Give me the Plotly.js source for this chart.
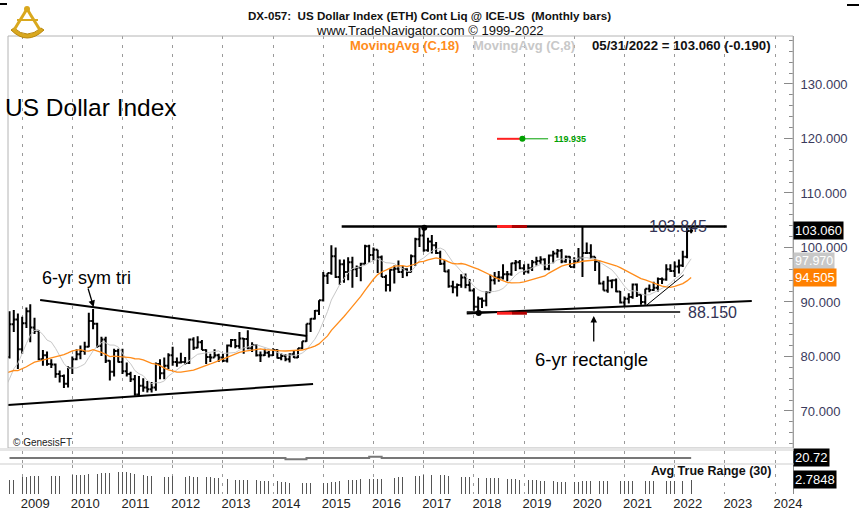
<!DOCTYPE html>
<html><head><meta charset="utf-8">
<script src="https://cdn.plot.ly/plotly-3.0.1.min.js"></script>
<style>html,body{margin:0;padding:0;background:#fff}#c{width:859px;height:510px}</style>
</head><body><div id="c"></div>
<script>
const months = [
'2007-01','2007-02','2007-03','2007-04','2007-05','2007-06','2007-07','2007-08','2007-09','2007-10','2007-11','2007-12',
'2008-01','2008-02','2008-03','2008-04','2008-05','2008-06','2008-07','2008-08','2008-09','2008-10','2008-11','2008-12',
'2009-01','2009-02','2009-03','2009-04','2009-05','2009-06','2009-07','2009-08','2009-09','2009-10','2009-11','2009-12',
'2010-01','2010-02','2010-03','2010-04','2010-05','2010-06','2010-07','2010-08','2010-09','2010-10','2010-11','2010-12',
'2011-01','2011-02','2011-03','2011-04','2011-05','2011-06','2011-07','2011-08','2011-09','2011-10','2011-11','2011-12',
'2012-01','2012-02','2012-03','2012-04','2012-05','2012-06','2012-07','2012-08','2012-09','2012-10','2012-11','2012-12',
'2013-01','2013-02','2013-03','2013-04','2013-05','2013-06','2013-07','2013-08','2013-09','2013-10','2013-11','2013-12',
'2014-01','2014-02','2014-03','2014-04','2014-05','2014-06','2014-07','2014-08','2014-09','2014-10','2014-11','2014-12',
'2015-01','2015-02','2015-03','2015-04','2015-05','2015-06','2015-07','2015-08','2015-09','2015-10','2015-11','2015-12',
'2016-01','2016-02','2016-03','2016-04','2016-05','2016-06','2016-07','2016-08','2016-09','2016-10','2016-11','2016-12',
'2017-01','2017-02','2017-03','2017-04','2017-05','2017-06','2017-07','2017-08','2017-09','2017-10','2017-11','2017-12',
'2018-01','2018-02','2018-03','2018-04','2018-05','2018-06','2018-07','2018-08','2018-09','2018-10','2018-11','2018-12',
'2019-01','2019-02','2019-03','2019-04','2019-05','2019-06','2019-07','2019-08','2019-09','2019-10','2019-11','2019-12',
'2020-01','2020-02','2020-03','2020-04','2020-05','2020-06','2020-07','2020-08','2020-09','2020-10','2020-11','2020-12',
'2021-01','2021-02','2021-03','2021-04','2021-05','2021-06','2021-07','2021-08','2021-09','2021-10','2021-11','2021-12',
'2022-01','2022-02','2022-03','2022-04','2022-05'];

const open = [
83.6,84.9,83.8,82.9,81.7,82.2,81.9,80.5,80.9,78.0,76.6,75.9,
76.7,75.4,73.7,72.1,73.3,72.8,72.5,73.2,77.4,79.9,85.9,86.8,
81.3,86.1,88.3,85.3,84.7,79.5,80.2,78.6,78.5,76.8,76.4,75.0,
77.9,79.5,80.4,81.0,81.8,86.5,86.0,81.9,83.1,79.2,77.2,81.0,
79.0,77.3,76.8,75.8,73.0,74.6,74.3,74.0,74.3,78.6,76.9,78.3,
80.2,79.0,78.9,79.0,78.8,83.1,81.6,82.6,81.2,79.9,79.8,80.2,
79.8,79.2,82.0,83.0,81.9,83.3,83.2,81.5,82.1,80.2,80.2,80.7,
80.2,81.2,79.7,80.1,79.5,80.4,79.8,81.5,82.8,86.0,86.9,88.4,
90.3,94.8,95.3,98.4,94.6,96.9,95.5,97.3,96.0,96.3,97.0,100.2,
98.6,99.6,98.2,94.6,93.1,95.9,96.1,95.5,96.0,95.5,98.4,101.5,
102.2,99.5,101.1,100.4,99.0,97.0,95.6,92.9,92.7,93.1,94.5,93.1,
92.1,89.1,90.6,90.2,91.8,94.0,94.5,94.5,95.1,95.1,97.1,97.3,
96.2,95.6,96.2,97.3,97.5,97.8,96.1,98.5,98.9,99.4,97.4,98.3,
96.4,97.4,98.1,99.0,99.0,98.3,97.4,93.4,92.1,93.9,94.0,91.9,
89.9,90.6,90.9,93.2,91.3,90.0,92.4,92.2,92.6,94.2,94.1,96.0,
95.7,96.5,96.7,98.3,103.0];

const high = [
85.4,85.1,84.3,83.0,82.6,83.0,82.0,82.2,81.1,78.4,76.9,78.0,
77.0,76.6,74.2,73.6,73.7,74.0,73.6,77.7,80.4,88.3,88.5,87.9,
87.3,89.0,89.6,87.1,84.8,81.2,80.9,79.5,78.7,77.4,76.7,78.2,
80.0,81.3,82.0,82.7,88.0,88.7,86.2,83.6,83.6,79.3,81.4,81.4,
81.4,78.9,77.2,76.6,76.4,76.0,75.5,75.3,78.9,79.5,79.8,80.6,
81.8,79.8,80.7,79.9,83.3,83.5,83.7,83.0,81.3,80.5,81.3,80.5,
80.5,82.2,83.2,83.2,84.5,83.4,84.8,82.6,82.3,80.9,81.4,81.0,
81.5,81.3,80.6,80.4,80.6,81.0,81.5,82.8,86.0,87.0,88.5,90.3,
95.5,95.3,100.4,100.0,97.8,97.8,98.2,98.3,96.7,97.2,100.5,100.5,
100.0,99.6,98.5,95.0,96.0,96.7,97.6,96.6,96.2,98.7,101.8,103.6,
103.8,101.8,102.3,101.0,99.4,97.7,96.0,93.9,93.4,95.1,95.2,94.2,
92.5,91.0,90.8,92.0,95.0,95.5,95.7,96.9,95.7,97.2,97.7,97.7,
96.9,97.0,97.7,98.3,98.4,98.0,98.7,99.4,99.7,99.7,98.5,98.4,
98.2,99.9,103.8,100.9,100.6,98.3,97.6,93.9,94.7,94.1,94.3,92.0,
91.0,91.6,93.4,93.4,91.4,92.4,93.2,93.7,94.5,94.5,96.9,96.9,
97.4,97.8,99.4,103.6,103.845];

const low = [
83.4,83.5,82.5,81.1,81.3,81.7,80.0,80.2,77.9,76.3,74.5,75.6,
75.3,73.6,70.7,71.3,71.9,72.0,71.3,72.9,76.0,79.6,84.5,77.7,
80.5,85.2,82.6,84.1,79.3,78.3,78.3,77.9,76.1,75.2,74.2,74.3,
76.8,79.3,79.5,80.3,81.7,85.0,81.6,80.1,78.8,75.6,76.3,78.9,
76.8,76.3,75.3,72.8,72.7,73.5,73.4,73.4,73.7,75.8,75.8,77.7,
78.3,78.1,78.7,78.5,78.6,81.2,81.5,81.2,78.6,79.0,79.8,79.0,
79.0,78.9,81.7,81.5,81.4,80.5,81.3,80.8,80.0,79.0,80.1,79.8,
80.1,79.6,79.3,79.1,78.9,79.7,79.7,81.3,82.7,84.5,86.8,87.6,
90.1,93.3,95.0,94.4,93.1,93.5,94.0,92.6,94.6,93.8,96.9,97.2,
97.6,95.3,94.6,91.9,91.9,93.4,95.3,94.4,94.7,95.4,96.6,100.1,
99.2,99.2,98.9,98.8,96.8,95.5,92.6,91.6,91.0,92.6,92.5,91.9,
88.4,88.15,88.9,89.2,91.8,93.2,93.7,94.1,93.8,94.8,95.7,96.0,
95.0,95.2,95.7,96.7,97.0,95.8,95.8,97.1,98.1,97.1,97.2,96.4,
96.2,97.4,94.6,98.8,97.9,95.7,93.2,92.1,91.7,92.5,91.8,89.7,
89.2,89.7,90.6,90.9,89.5,89.5,91.8,92.0,91.9,93.3,93.9,95.5,
94.6,95.2,96.4,98.0,102.6];

const close = [
84.9,83.8,82.9,81.7,82.2,81.9,80.5,80.9,78.0,76.6,75.9,76.7,
75.4,73.7,72.1,73.3,72.8,72.5,73.2,77.4,79.9,85.9,86.8,81.3,
86.1,88.3,85.3,84.7,79.5,80.2,78.6,78.5,76.8,76.4,75.0,77.9,
79.5,80.4,81.0,81.8,86.5,86.0,81.9,83.1,79.2,77.2,81.0,79.0,
77.3,76.8,75.8,73.0,74.6,74.3,74.0,74.3,78.6,76.9,78.3,80.2,
79.0,78.9,79.0,78.8,83.1,81.6,82.6,81.2,79.9,79.8,80.2,79.8,
79.2,82.0,83.0,81.9,83.3,83.2,81.5,82.1,80.2,80.2,80.7,80.2,
81.2,79.7,80.1,79.5,80.4,79.8,81.5,82.8,86.0,86.9,88.4,90.3,
94.8,95.3,98.4,94.6,96.9,95.5,97.3,96.0,96.3,97.0,100.2,98.6,
99.6,98.2,94.6,93.1,95.9,96.1,95.5,96.0,95.5,98.4,101.5,102.2,
99.5,101.1,100.4,99.0,97.0,95.6,92.9,92.7,93.1,94.5,93.1,92.1,
89.1,90.6,90.2,91.8,94.0,94.5,94.5,95.1,95.1,97.1,97.3,96.2,
95.6,96.2,97.3,97.5,97.8,96.1,98.5,98.9,99.4,97.4,98.3,96.4,
97.4,98.1,99.0,99.0,98.3,97.4,93.4,92.1,93.9,94.0,91.9,89.9,
90.6,90.9,93.2,91.3,90.0,92.4,92.2,92.6,94.2,94.1,96.0,95.7,
96.5,96.7,98.3,103.0,103.06];

// second (flat) study panel
const subX = ['2008-10','2014-04','2014-04','2014-09','2014-09','2015-12','2015-12','2016-03','2016-03','2022-05'];
const subY = [20.72,20.72,20.45,20.45,20.72,20.72,21.05,21.05,20.72,20.72];

// axis tick labels
const yearTicks = ['2009','2010','2011','2012','2013','2014','2015','2016','2017','2018','2019','2020','2021','2022','2023','2024'];

// drawn trend lines (date, value)
const triUpX = ['2009-05-12','2014-09-05'], triUpY = [90.37, 83.76];
const triLoX = ['2008-09-20','2014-10-19'], triLoY = [71.1, 74.95];
const topX = ['2015-05-15','2023-01-15'], topY = [103.85, 103.85];
const flatX = ['2017-11-10','2022-02-10'], flatY = [88.15, 88.15];
const riseX = ['2017-11-10','2023-07-16'], riseY = [87.9, 90.18];
const thinX = ['2021-06-13','2022-03-07'], thinY = [89.45, 94.95];

// indicators derived from the bars
const ma = (n) => close.map((c, i) => {
  if (i < n - 1) return null;
  let s = 0; for (let k = i - n + 1; k <= i; k++) s += close[k];
  return s / n;
});
const ma18 = ma(18), ma8 = ma(8);
const tr = close.map((c, i) => i === 0 ? high[0] - low[0] :
  Math.max(high[i] - low[i], Math.abs(high[i] - close[i-1]), Math.abs(low[i] - close[i-1])));
const atr = tr.map((t, i) => {
  const a = Math.max(0, i - 29); let s = 0;
  for (let k = a; k <= i; k++) s += tr[k];
  return s / (i - a + 1);
});
const vis = months.map((m) => m >= '2008-10');
const atrX = months.filter((m, i) => vis[i]);
const atrY = atr.filter((v, i) => vis[i]);

const F = 'Liberation Sans, Arial, sans-serif';
const W = 859, H = 510;
const px = (x) => x / W, py = (y) => 1 - y / H;

const line = (x, y, color, width, yaxis) => ({type: 'scatter', mode: 'lines', x, y, yaxis: yaxis || 'y',
  line: {color, width}, hoverinfo: 'skip'});

const traces = [
  line(months.slice(17), ma8.slice(17), '#c8c8c8', 1),
  line(months.slice(17), ma18.slice(17), '#ff8c1a', 1.3),
  {type: 'ohlc', x: months, open, high, low, close, xaxis: 'x', yaxis: 'y',
   increasing: {line: {color: '#000', width: 2}}, decreasing: {line: {color: '#000', width: 2}},
   tickwidth: 0.5, hoverinfo: 'skip'},
  line(triUpX, triUpY, '#000', 2),
  line(triLoX, triLoY, '#000', 2),
  line(topX, topY, '#000', 2.5),
  line(flatX, flatY, '#000', 1.5),
  line(riseX, riseY, '#000', 2),
  line(thinX, thinY, '#000', 1),
  line(['2018-06-18','2018-10-05'], [103.85,103.85], '#ff2020', 3),
  line(['2018-10-05','2019-01-22'], [103.85,103.85], '#b00000', 3),
  line(['2018-06-18','2018-10-05'], [87.93,87.93], '#ff2020', 3),
  line(['2018-10-05','2019-01-22'], [87.93,87.93], '#b00000', 3),
  line(['2018-06-18','2018-12-16'], [119.935,119.935], '#ff2020', 2),
  line(['2018-12-16','2019-06-25'], [119.935,119.935], '#00a000', 1),
  {type: 'scatter', mode: 'markers', x: ['2018-12-20'], y: [119.935], marker: {color: '#00a000', size: 6}, hoverinfo: 'skip'},
  {type: 'scatter', mode: 'markers', x: ['2017-01-05','2018-02-05'], y: [103.6, 87.95], marker: {color: '#000', size: 6}, hoverinfo: 'skip'},
  line(subX, subY, '#777', 2, 'y2'),
  {type: 'bar', x: atrX, y: atrY, yaxis: 'y3', marker: {color: '#555', line: {width: 0}}, width: 4.5e8, hoverinfo: 'skip'}
];

const ann = (o) => Object.assign({showarrow: false, xanchor: 'center', yanchor: 'middle',
  font: {family: F, size: 12, color: '#000'}}, o);

const layout = {
  width: W, height: H, margin: {l: 0, r: 0, t: 0, b: 0},
  paper_bgcolor: '#fff', plot_bgcolor: 'rgba(0,0,0,0)', showlegend: false, bargap: 0,
  xaxis: {type: 'date', domain: [px(8), px(793)], range: ['2008-09-20', '2024-05-11'], anchor: 'y3',
    tickvals: yearTicks.map((y) => y + '-01-01'), ticktext: yearTicks, ticklabelshift: 13,
    tickfont: {family: F, size: 13, color: '#222'}, ticks: '', showgrid: true, gridcolor: '#9a9a9a',
    griddash: '3px,6px', gridwidth: 1, showline: false, zeroline: false, rangeslider: {visible: false}, fixedrange: true},
  yaxis: {domain: [py(448), py(36)], range: [63.2, 138.8], side: 'right', anchor: 'x',
    tick0: 0, dtick: 10, tickformat: '.3f', ticks: 'inside', ticklen: 9, tickcolor: '#8a8a8a',
    minor: {dtick: 2, ticks: 'inside', ticklen: 4, tickcolor: '#8a8a8a'},
    showline: true, linecolor: '#8a8a8a', linewidth: 1, showgrid: false, zeroline: false,
    tickfont: {family: F, size: 13, color: '#3a3a5c'}, ticklabelstandoff: 4, fixedrange: true},
  yaxis2: {domain: [py(463), py(451)], range: [19.5, 22.5], anchor: 'x', side: 'right', showticklabels: false,
    ticks: '', showgrid: false, zeroline: false, showline: true, linecolor: '#8a8a8a', fixedrange: true},
  yaxis3: {domain: [py(494), py(465)], range: [0, 5.48], anchor: 'x', side: 'right', showticklabels: false,
    ticks: '', showgrid: false, zeroline: false, showline: true, linecolor: '#8a8a8a', fixedrange: true},
  shapes: [
    {type: 'rect', xref: 'paper', yref: 'paper', x0: px(8), x1: px(793), y0: py(448), y1: py(36), line: {color: '#b4b4b4', width: 1}},
    {type: 'rect', xref: 'paper', yref: 'paper', x0: 0, x1: px(793), y0: py(451), y1: py(448), fillcolor: '#e6e6e6', line: {width: 0}},
    {type: 'rect', xref: 'paper', yref: 'paper', x0: 0, x1: px(793), y0: py(465), y1: py(463), fillcolor: '#e6e6e6', line: {width: 0}},
    {type: 'line', xref: 'paper', yref: 'paper', x0: 0, x1: px(7), y0: py(4), y1: py(4), line: {color: '#000', width: 2}},
    {type: 'line', xref: 'paper', yref: 'paper', x0: px(847), x1: 1, y0: py(5), y1: py(5), line: {color: '#000', width: 2}},
    // logo (gold sextant)
    {type: 'path', xref: 'paper', yref: 'paper', fillcolor: '#d9a81e', line: {color: '#b8860b', width: 1},
     path: `M ${px(11)} ${py(30)} Q ${px(27)} ${py(46)} ${px(44)} ${py(30)} L ${px(41)} ${py(28)} Q ${px(27)} ${py(40)} ${px(14)} ${py(28)} Z`},
    {type: 'line', xref: 'paper', yref: 'paper', x0: px(27), x1: px(14), y0: py(9), y1: py(30), line: {color: '#d9a81e', width: 3}},
    {type: 'line', xref: 'paper', yref: 'paper', x0: px(27), x1: px(40), y0: py(9), y1: py(30), line: {color: '#d9a81e', width: 3}},
    {type: 'line', xref: 'paper', yref: 'paper', x0: px(17), x1: px(38), y0: py(20), y1: py(20), line: {color: '#d9a81e', width: 2}},
    {type: 'circle', xref: 'paper', yref: 'paper', x0: px(24), x1: px(30), y0: py(12), y1: py(6), fillcolor: '#d9a81e', line: {width: 0}}
  ],
  annotations: [
    ann({xref: 'paper', yref: 'paper', x: px(429), y: py(15), text: '<b>DX-057:\u00a0 US Dollar Index (ETH) Cont Liq @ ICE-US\u00a0 (Monthly bars)</b>', font: {family: F, size: 11.6, color: '#111'}}),
    ann({xref: 'paper', yref: 'paper', x: px(430), y: py(30.5), text: 'www.TradeNavigator.com © 1999-2022', font: {family: F, size: 13, color: '#111'}}),
    ann({xref: 'paper', yref: 'paper', x: px(348), y: py(45), xanchor: 'left', text: '<b>MovingAvg (C,18)</b>', font: {family: F, size: 13, color: '#ff8c1a'}}),
    ann({xref: 'paper', yref: 'paper', x: px(471), y: py(45), xanchor: 'left', text: '<b>MovingAvg (C,8)</b>', font: {family: F, size: 13, color: '#c8c8c8'}}),
    ann({xref: 'paper', yref: 'paper', x: px(590), y: py(45), xanchor: 'left', text: '<b>05/31/2022 = 103.060 (-0.190)</b>', font: {family: F, size: 13.2, color: '#111'}}),
    ann({xref: 'paper', yref: 'paper', x: px(3), y: py(107), xanchor: 'left', text: 'US Dollar Index', font: {family: F, size: 24.5, color: '#000'}}),
    ann({x: '2010-04-16', y: 94.4, text: '6-yr sym tri', font: {family: F, size: 18, color: '#000'}}),
    ann({x: '2020-05-08', y: 79.5, text: '6-yr rectangle', font: {family: F, size: 18.5, color: '#000'}}),
    ann({x: '2021-06-10', y: 103.85, xanchor: 'left', text: '103.845', font: {family: F, size: 16, color: '#333355'}}),
    ann({x: '2022-03-28', y: 88.15, xanchor: 'left', text: '88.150', font: {family: F, size: 16, color: '#333355'}}),
    ann({x: '2019-07-25', y: 119.935, xanchor: 'left', text: '<b>119.935</b>', font: {family: F, size: 9, color: '#00a000'}}),
    ann({x: '2010-06-05', y: 89.08, ax: -6, ay: -20, text: '', showarrow: true, arrowhead: 2, arrowsize: 1, arrowwidth: 1.3, arrowcolor: '#000'}),
    ann({x: '2020-05-22', y: 87.4, ax: 0, ay: 27, text: '', showarrow: true, arrowhead: 2, arrowsize: 1, arrowwidth: 1.3, arrowcolor: '#000'}),
    ann({xref: 'paper', yref: 'paper', x: px(11), y: py(442), xanchor: 'left', text: '© GenesisFT', font: {family: F, size: 10, color: '#222'}}),
    ann({xref: 'paper', yref: 'paper', x: px(773), y: py(471), xanchor: 'right', text: '<b>Avg True Range (30)</b>', font: {family: F, size: 12.5, color: '#111'}}),
    ann({xref: 'paper', yref: 'y', x: px(793), y: 103.06, xanchor: 'left', text: '103.060', bgcolor: '#000', borderpad: 1, font: {family: F, size: 13, color: '#fff'}}),
    ann({xref: 'paper', yref: 'y', x: px(793), y: 97.45, xanchor: 'left', text: '97.970', bgcolor: '#c8c8c8', borderpad: 1, font: {family: F, size: 12.5, color: '#fff'}}),
    ann({xref: 'paper', yref: 'y', x: px(793), y: 94.4, xanchor: 'left', text: '94.505', bgcolor: '#ff8000', borderpad: 1, font: {family: F, size: 13, color: '#fff'}}),
    ann({xref: 'paper', yref: 'y2', x: px(793), y: 21.0, xanchor: 'left', text: '20.72', bgcolor: '#000', borderpad: 1, font: {family: F, size: 13, color: '#fff'}}),
    ann({xref: 'paper', yref: 'y3', x: px(793), y: 2.7848, xanchor: 'left', text: '2.7848', bgcolor: '#000', borderpad: 1, font: {family: F, size: 13, color: '#fff'}})
  ]
};

Plotly.newPlot('c', traces, layout, {staticPlot: true, displayModeBar: false});
</script>
</body></html>
